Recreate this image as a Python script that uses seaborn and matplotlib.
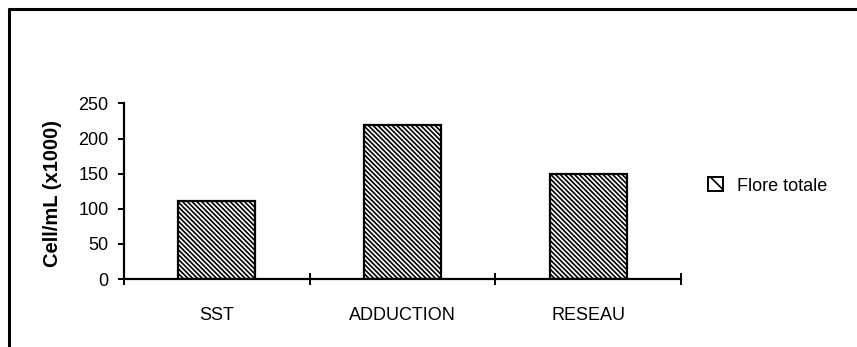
import matplotlib
matplotlib.use("Agg")
import matplotlib.pyplot as plt
from matplotlib.lines import Line2D
from matplotlib.patches import Patch
import seaborn as sns

# Total flora counts per sampling point
categories = ["SST", "ADDUCTION", "RESEAU"]
flore_totale = [111, 220, 150]
y_ticks = [0, 50, 100, 150, 200, 250]
series_label = "Flore totale"
y_label = "Cell/mL (x1000)"

sns.set_theme(style="white")
plt.rcParams["font.family"] = ["Liberation Sans", "DejaVu Sans"]
plt.rcParams["text.color"] = "black"
plt.rcParams["axes.labelcolor"] = "black"
plt.rcParams["xtick.color"] = "black"
plt.rcParams["ytick.color"] = "black"
plt.rcParams["hatch.linewidth"] = 1.2
plt.rcParams["hatch.color"] = "black"

fig = plt.figure(figsize=(8.57, 3.47), dpi=100)
ax = fig.add_axes([124 / 857, 68 / 347, 557 / 857, 175.5 / 347])

sns.barplot(x=categories, y=flore_totale, color="white", edgecolor="black",
            linewidth=1.6, width=0.415, ax=ax, saturation=1)
for patch in ax.patches:
    patch.set_hatch("\\" * 7)
    patch.set_facecolor("white")

ax.set_xlim(-0.5, len(categories) - 0.5)
ax.set_ylim(0, 250)
ax.set_yticks(y_ticks)
ax.set_yticklabels([str(v) for v in y_ticks])
ax.tick_params(axis="y", direction="out", length=4, width=1.4,
               pad=7, left=True, labelsize=13)

# category boundary ticks on the x axis, labels at category centres
ax.set_xticks([i - 0.5 for i in range(len(categories) + 1)])
ax.set_xticklabels([""] * (len(categories) + 1))
ax.tick_params(axis="x", which="major", direction="inout", length=9,
               width=1.4, bottom=True)
ax.set_xticks(range(len(categories)), minor=True)
ax.set_xticklabels(categories, minor=True)
ax.tick_params(axis="x", which="minor", length=0, pad=20, labelsize=13)

ax.set_xlabel("")
ax.set_ylabel(y_label, fontsize=14.5, fontweight="bold")
ax.yaxis.set_label_coords(-0.111, 0.49)

for side in ["top", "right"]:
    ax.spines[side].set_visible(False)
for side in ["left", "bottom"]:
    ax.spines[side].set_color("black")
    ax.spines[side].set_linewidth(1.6)

handle = Patch(facecolor="white", edgecolor="black", hatch="\\\\", linewidth=1.4)
fig.legend(handles=[handle], labels=[series_label], loc="center left",
           bbox_to_anchor=(692 / 857, 1 - 186 / 347), frameon=False,
           fontsize=13, handlelength=0.8, handleheight=0.8, handletextpad=0.8)

# frame lines along the top and left edges of the page
fig.add_artist(Line2D([9 / 857, 1.0], [1 - 9 / 347, 1 - 9 / 347],
                      color="black", linewidth=2.2, transform=fig.transFigure))
fig.add_artist(Line2D([9 / 857, 9 / 857], [0.0, 1 - 9 / 347],
                      color="black", linewidth=2.2, transform=fig.transFigure))

fig.savefig("out.png", dpi=100, facecolor="white")
